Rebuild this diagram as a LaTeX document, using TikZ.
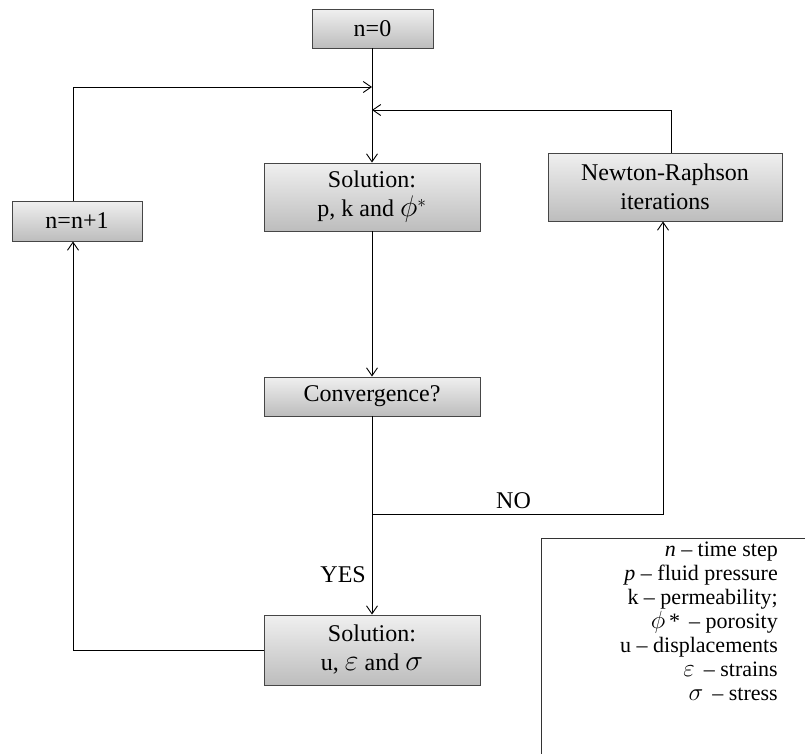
\documentclass[tikz,border=0pt]{standalone}
\usepackage{fontspec}
\setmainfont{Liberation Serif}
\usetikzlibrary{arrows.meta}
\newcommand\boxfont{\fontsize{24}{29}\selectfont}
\newcommand\keyfont{\fontsize{22}{24}\selectfont}
% enlarged Greek symbols
\newcommand\bigsym[1]{\scalebox{1.2}{$#1$}}
\tikzset{
  flowbox/.style={draw=gray!55!black, line width=0.9pt, top color=gray!12,
    bottom color=gray!52, align=center, font=\boxfont, inner sep=0pt},
  link/.style={line width=0.9pt, draw=black},
  arr/.style={link, -{Straight Barb[length=8pt,width=11pt]}},
  tag/.style={font=\boxfont, inner sep=0pt},
}
\begin{document}
\begin{tikzpicture}[x=1pt,y=-1pt]
\useasboundingbox[fill=white] (0,0) rectangle (805,753);

% boxes of the flow chart
\node[flowbox, minimum width=121pt, minimum height=39pt] (n0) at (372.5,28.5) {n=0};
\node[flowbox, minimum width=216pt, minimum height=68pt] (sol1) at (372,197) {Solution:\\p, k and \bigsym{\phi}$^{*}$};
\node[flowbox, minimum width=234pt, minimum height=68pt] (nr) at (665,187) {Newton-Raphson\\iterations};
\node[flowbox, minimum width=130pt, minimum height=40pt] (inc) at (77,221) {n=n+1};
\node[flowbox, minimum width=216pt, minimum height=39pt] (conv) at (372,396.5) {Convergence?};
\node[flowbox, minimum width=216pt, minimum height=70pt] (sol2) at (372,650) {Solution:\\u, \bigsym{\varepsilon} and \bigsym{\sigma}};

% junction points on the main trunk
\coordinate (jl) at (372,87);
\coordinate (jr) at (372,110);
\coordinate (jno) at (372,514);
\coordinate (lx) at (73,0);
\coordinate (rx) at (671,0);
\coordinate (nx) at (663,0);

% connectors
\draw[arr] (n0.south -| jl) -- (sol1.north -| jl);
\draw[arr] (inc.north -| lx) |- (jl);
\draw[arr] (nr.north -| rx) |- (jr);
\draw[arr] (sol1.south -| jl) -- (conv.north -| jl);
\draw[arr] (conv.south -| jl) -- (sol2.north -| jl);
\draw[arr] (jno) -| (nr.south -| nx);
\draw[arr] (sol2.west) -| (inc.south -| lx);

% branch labels
\node[tag, anchor=south west] (no) at (496,509) {NO};
\node[tag, anchor=east] (yes) at (366,575) {YES};

% key of symbols
\draw[link, draw=gray!40!black] (541,760) -- (541,538) -- (810,538);
\node[font=\keyfont, align=right, anchor=north east, inner sep=0pt] (key) at (778,542)
  {\textit{n} – time step\\
   \textit{p} – fluid pressure\\
   k – permeability;\\
   \bigsym{\phi}\,* \,– porosity\\
   u – displacements\\
   \bigsym{\varepsilon} \,– strains\\
   \bigsym{\sigma} \,– stress};
\end{tikzpicture}
\end{document}
